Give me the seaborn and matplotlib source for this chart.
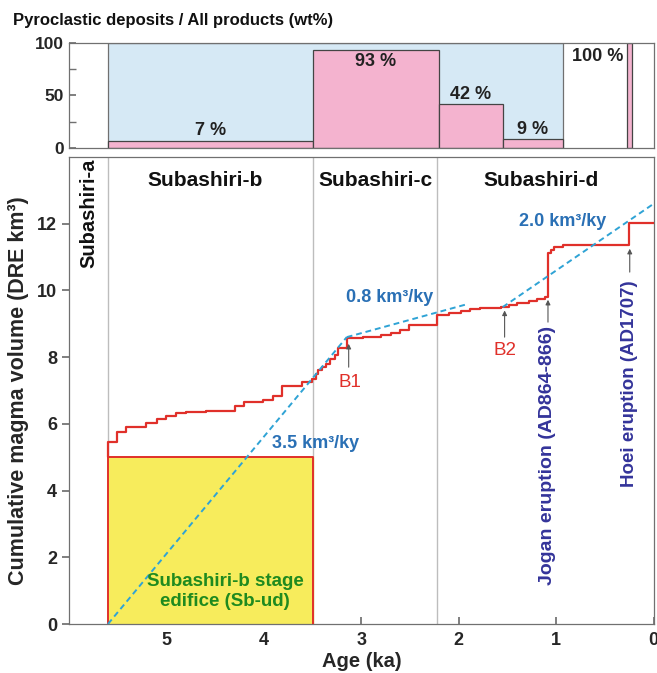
import matplotlib
matplotlib.use("Agg")
import matplotlib.pyplot as plt
import seaborn as sns
import numpy as np
import pandas as pd

sns.set_theme(style="ticks")
plt.rcParams["font.family"] = ["Liberation Sans", "DejaVu Sans"]
plt.rcParams["font.weight"] = "bold"

# ---- data -------------------------------------------------------------
# cumulative erupted volume (DRE km3) as a step series, age in ka
step_age = [5.60, 5.60, 5.51, 5.41, 5.21, 5.10, 5.00, 4.90, 4.80, 4.59,
            4.30, 4.20, 4.01, 3.91, 3.81, 3.61, 3.51, 3.47, 3.44, 3.40,
            3.36, 3.32, 3.27, 3.24, 3.15, 2.98, 2.80, 2.70, 2.60, 2.51,
            2.22, 2.10, 1.98, 1.88, 1.78, 1.57, 1.48, 1.40, 1.28, 1.20,
            1.12, 1.085, 1.05, 1.02, 0.93, 0.25, 0.0]
step_vol = [5.00, 5.45, 5.77, 5.90, 6.02, 6.15, 6.25, 6.32, 6.36, 6.39,
            6.55, 6.67, 6.72, 6.84, 7.15, 7.27, 7.35, 7.48, 7.60, 7.70,
            7.80, 7.93, 8.07, 8.27, 8.57, 8.60, 8.66, 8.71, 8.80, 8.97,
            9.27, 9.33, 9.38, 9.43, 9.47, 9.50, 9.57, 9.62, 9.68, 9.73,
            9.80, 11.12, 11.22, 11.30, 11.35, 12.03, 12.03]

# eruption-rate trend lines: (age, volume) end points
rate_35_age = [5.60, 3.15]
rate_35_vol = [0.0, 8.60]
rate_08_age = [3.15, 1.90]
rate_08_vol = [8.60, 9.60]
rate_20_age = [1.55, 0.0]
rate_20_vol = [9.50, 12.60]

# Subashiri-b stage edifice volume
edifice_age = [5.60, 3.50]
edifice_vol = 5.0

# stage boundaries (ka)
stage_bounds = [5.60, 3.50, 2.22]

# pyroclastic fraction of all products per period
pyro_start = [5.60, 3.50, 2.20, 1.55, 0.27]
pyro_end = [3.50, 2.20, 1.55, 0.93, 0.22]
pyro_pct = [7, 93, 42, 9, 100]
pyro_labels = ["7 %", "93 %", "42 %", "9 %", "100 %"]

# ---- figure -----------------------------------------------------------
fig = plt.figure(figsize=(6.57, 6.73), dpi=100)
ax_top = fig.add_axes([0.105, 0.780, 0.890, 0.1565])
ax = fig.add_axes([0.105, 0.0728, 0.890, 0.6939])

pink = "#f4b3cf"
blue_bg = "#d6e9f5"
red = "#e0302a"
dash_c = "#2fa3d5"
rate_txt = "#2a70b5"
frame_c = "#707070"

# top panel
ax_top.bar(x=pyro_end[3], width=pyro_start[0] - pyro_end[3], height=100, align="edge",
           color=blue_bg, edgecolor=frame_c, linewidth=0.9, zorder=1)
widths = [s - e for s, e in zip(pyro_start, pyro_end)]
ax_top.bar(x=pyro_end, width=widths, height=pyro_pct, align="edge",
           color=pink, edgecolor="#444444", linewidth=0.9, zorder=2)
label_pos = [(4.55, 17), (2.85, 82), (1.875, 51), (1.24, 18), (0.575, 87)]
for (xa, ya), t in zip(label_pos, pyro_labels):
    ax_top.text(xa, ya, t, ha="center", va="center", fontsize=13,
                fontweight="bold", color="#222222", zorder=3)
ax_top.set_xlim(6, 0)
ax_top.set_ylim(0, 100)
ax_top.set_yticks([0, 50, 100])
ax_top.set_yticks([25, 75], minor=True)
ax_top.set_xticks([1, 2, 3, 4, 5])
ax_top.set_xticklabels([])
ax_top.tick_params(axis="both", which="both", direction="in", length=5,
                   color=frame_c, labelsize=12.5)
for lab in ax_top.get_yticklabels():
    lab.set_fontweight("bold")
for s in ax_top.spines.values():
    s.set_color(frame_c)
    s.set_linewidth(0.9)
fig.text(13 / 657, 1 - 21 / 673, "Pyroclastic deposits / All products (wt%)",
         ha="left", va="center", fontsize=12, fontweight="bold", color="#111111")

# main panel
for b in stage_bounds:
    ax.axvline(b, color="#bdbdbd", lw=1.0, zorder=1)

ax.fill_between(edifice_age, 0, edifice_vol, color="#f7ec5c", zorder=2)
ax.plot([edifice_age[0], edifice_age[0], edifice_age[1], edifice_age[1]],
        [0, edifice_vol, edifice_vol, 0], color=red, lw=1.4, zorder=3)

df_steps = pd.DataFrame({"age": step_age, "vol": step_vol})
sns.lineplot(data=df_steps, x="age", y="vol", sort=False, estimator=None,
             drawstyle="steps-post", color=red, lw=1.6, ax=ax, zorder=4)

for xs, ys in [(rate_35_age, rate_35_vol), (rate_08_age, rate_08_vol),
               (rate_20_age, rate_20_vol)]:
    sns.lineplot(x=xs, y=ys, sort=False, estimator=None, color=dash_c,
                 lw=1.4, linestyle=(0, (3, 2)), ax=ax, zorder=5)

# stage names
for xa, t in [(4.6, "Subashiri-b"), (2.86, "Subashiri-c"), (1.16, "Subashiri-d")]:
    ax.text(xa, 13.3, t, ha="center", va="center", fontsize=15,
            fontweight="bold", color="#111111")
ax.text(5.8, 12.3, "Subashiri-a", rotation=90, ha="center", va="center",
        fontsize=14.5, fontweight="bold", color="#111111")

# rates
ax.text(3.47, 5.4, "3.5 km³/ky", ha="center", va="center", fontsize=13,
        fontweight="bold", color=rate_txt, zorder=6)
ax.text(2.71, 9.8, "0.8 km³/ky", ha="center", va="center", fontsize=13,
        fontweight="bold", color=rate_txt, zorder=6)
ax.text(0.93, 12.06, "2.0 km³/ky", ha="center", va="center", fontsize=13,
        fontweight="bold", color=rate_txt, zorder=6)

# break-point and eruption markers
arrow_kw = dict(arrowstyle="-|>", color="#555555", lw=0.8, mutation_scale=7,
                shrinkA=0, shrinkB=0)
for xa, y0, y1 in [(3.13, 7.70, 8.40), (1.53, 8.60, 9.40),
                   (1.085, 9.05, 9.72), (0.246, 10.55, 11.25)]:
    ax.annotate("", xy=(xa, y1), xytext=(xa, y0), arrowprops=arrow_kw, zorder=6)
ax.text(3.12, 7.25, "B1", ha="center", va="center", fontsize=13.5,
        fontweight="normal", color=red)
ax.text(1.53, 8.2, "B2", ha="center", va="center", fontsize=13.5,
        fontweight="normal", color=red)
ax.text(1.085, 5.06, "Jogan eruption (AD864-866)", rotation=90, ha="center",
        va="center", fontsize=14, fontweight="bold", color="#34349a")
ax.text(0.25, 7.2, "Hoei eruption (AD1707)", rotation=90, ha="center",
        va="center", fontsize=13.5, fontweight="bold", color="#34349a")
ax.text(4.4, 0.98, "Subashiri-b stage\nedifice (Sb-ud)", ha="center", va="center",
        fontsize=13.5, fontweight="bold", color="#1f8a1f", linespacing=1.25,
        zorder=6)

ax.set_xlim(6, 0)
ax.set_ylim(0, 14)
ax.set_xticks([5, 4, 3, 2, 1, 0])
ax.set_yticks([0, 2, 4, 6, 8, 10, 12])
ax.tick_params(axis="x", direction="in", length=5, color=frame_c, labelsize=13, pad=6)
ax.tick_params(axis="y", direction="out", length=5, color=frame_c, labelsize=13)
for lab in ax.get_xticklabels() + ax.get_yticklabels():
    lab.set_fontweight("bold")
for s in ax.spines.values():
    s.set_color(frame_c)
    s.set_linewidth(0.9)
ax.set_xlabel("Age (ka)", fontsize=14.5, fontweight="bold", labelpad=2)
ax.set_ylabel("Cumulative magma volume (DRE km³)", fontsize=15.5,
              fontweight="bold")
ax.yaxis.set_label_coords(-0.068, 0.5)

fig.savefig("out.png", dpi=100)
